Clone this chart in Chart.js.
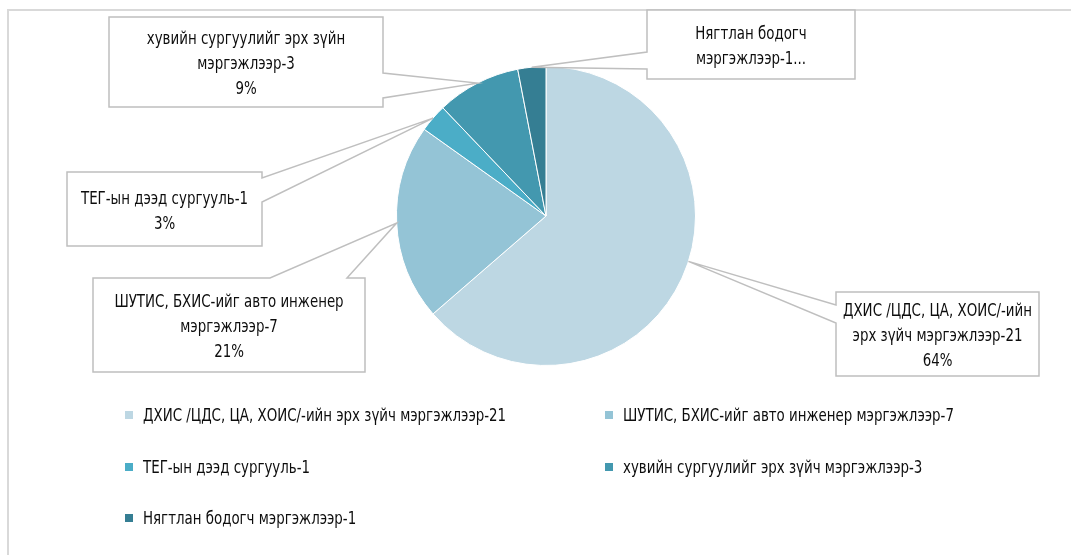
<!DOCTYPE html>
<html><head><meta charset="utf-8">
<script src="https://cdn.jsdelivr.net/npm/chart.js@4.4.1/dist/chart.umd.min.js"></script>
<style>
html,body{margin:0;padding:0;background:#fff;}
#wrap{position:relative;width:1071px;height:555px;overflow:hidden;background:#fff;}
#frame{position:absolute;left:7px;top:9px;width:1080px;height:570px;border-top:2px solid #d9d9d9;border-left:2px solid #d9d9d9;}
#c{position:absolute;left:0;top:0;}
.leg{position:absolute;font-family:"Liberation Sans Narrow","DejaVu Sans Condensed",sans-serif;font-size:17px;color:#0d0d0d;white-space:nowrap;line-height:20px;}
.leg span{display:inline-block;transform:scaleX(0.875);transform-origin:0 50%;}
.leg i{position:absolute;left:-18px;top:6px;width:8px;height:8px;}
</style></head>
<body>
<div id="wrap"><div id="frame"></div><canvas id="c" width="1071" height="555"></canvas></div>
<script>
const categories = [
  "ДХИС /ЦДС, ЦА, ХОИС/-ийн эрх зүйч мэргэжлээр-21",
  "ШУТИС, БХИС-ийг авто инженер мэргэжлээр-7",
  "ТЕГ-ын дээд сургууль-1",
  "хувийн сургуулийг эрх зүйч мэргэжлээр-3",
  "Нягтлан бодогч мэргэжлээр-1"
];
const values = [21, 7, 1, 3, 1];
const colors = ["#bdd7e3", "#94c4d6", "#4badc7", "#4398af", "#357e93"];
const calloutLines = [
  ["ДХИС /ЦДС, ЦА, ХОИС/-ийн", "эрх зүйч мэргэжлээр-21"],
  ["ШУТИС, БХИС-ийг авто инженер", "мэргэжлээр-7"],
  ["ТЕГ-ын дээд сургууль-1"],
  ["хувийн сургуулийг эрх зүйн", "мэргэжлээр-3"],
  ["Нягтлан бодогч", "мэргэжлээр-1..."]
];
const calloutShowPct = [true, true, true, true, false];

const FONT = '"Liberation Sans Narrow","DejaVu Sans Condensed",sans-serif';
const SQUEEZE = 0.875;
// callout box geometry: [x1,y1,x2,y2, side, b1, b2, tipFraction]
const boxes = [
  [836, 292, 1039, 376, 'left', 305, 323, 0.47],
  [93, 278, 365, 372, 'top', 270, 347, 0.5],
  [67, 172, 262, 246, 'right', 178, 202, 0.5],
  [109, 17, 383, 107, 'right', 73, 98, 0.5],
  [647, 10, 855, 79, 'left', 52, 69, 0.5]
];

const total = values.reduce((a, b) => a + b, 0);

const calloutPlugin = {
  id: 'callouts',
  afterDatasetsDraw(chart) {
    const ctx = chart.ctx;
    const arcs = chart.getDatasetMeta(0).data;
    arcs.forEach((arc, i) => {
      const p = arc.getProps(['x', 'y', 'startAngle', 'endAngle', 'outerRadius'], true);
      const [x1, y1, x2, y2, side, b1, b2, f] = boxes[i];
      const ang = p.startAngle + (p.endAngle - p.startAngle) * f;
      const tx = p.x + Math.cos(ang) * p.outerRadius;
      const ty = p.y + Math.sin(ang) * p.outerRadius;
      ctx.save();
      ctx.beginPath();
      if (side === 'left') {
        ctx.moveTo(x1, y1); ctx.lineTo(x2, y1); ctx.lineTo(x2, y2); ctx.lineTo(x1, y2);
        ctx.lineTo(x1, b2); ctx.lineTo(tx, ty); ctx.lineTo(x1, b1);
      } else if (side === 'right') {
        ctx.moveTo(x1, y1); ctx.lineTo(x2, y1); ctx.lineTo(x2, b1); ctx.lineTo(tx, ty);
        ctx.lineTo(x2, b2); ctx.lineTo(x2, y2); ctx.lineTo(x1, y2);
      } else {
        ctx.moveTo(x1, y1); ctx.lineTo(b1, y1); ctx.lineTo(tx, ty); ctx.lineTo(b2, y1);
        ctx.lineTo(x2, y1); ctx.lineTo(x2, y2); ctx.lineTo(x1, y2);
      }
      ctx.closePath();
      ctx.fillStyle = '#ffffff';
      ctx.fill();
      ctx.strokeStyle = '#bfbfbf';
      ctx.lineWidth = 1.5;
      ctx.stroke();
      const lines = calloutLines[i].slice();
      if (calloutShowPct[i]) lines.push(Math.round(values[i] / total * 100) + '%');
      ctx.fillStyle = '#0d0d0d';
      ctx.font = '17px ' + FONT;
      ctx.textAlign = 'center';
      ctx.textBaseline = 'middle';
      const lh = 25;
      const cx = (x1 + x2) / 2, cy = (y1 + y2) / 2 + 3;
      const startY = cy - (lines.length - 1) * lh / 2;
      lines.forEach((t, k) => {
        ctx.save();
        ctx.translate(cx, startY + k * lh);
        ctx.scale(SQUEEZE, 1);
        ctx.fillText(t, 0, 0);
        ctx.restore();
      });
      ctx.restore();
    });
  }
};

new Chart(document.getElementById('c'), {
  type: 'pie',
  data: {
    labels: categories,
    datasets: [{
      data: values,
      backgroundColor: colors,
      borderColor: '#ffffff',
      borderWidth: 1,
      hoverOffset: 0
    }]
  },
  options: {
    responsive: false,
    animation: false,
    devicePixelRatio: 1,
    layout: { padding: { left: 396, right: 375, top: 66, bottom: 189 } },
    plugins: { legend: { display: false }, tooltip: { enabled: false } }
  },
  plugins: [calloutPlugin]
});

// HTML legend in two columns
const legPos = [[143, 415], [623, 415], [143, 467], [623, 467], [143, 518]];
const wrap = document.getElementById('wrap');
categories.forEach((name, i) => {
  const d = document.createElement('div');
  d.className = 'leg';
  d.style.left = legPos[i][0] + 'px';
  d.style.top = (legPos[i][1] - 10) + 'px';
  const sw = document.createElement('i');
  sw.style.background = colors[i];
  d.appendChild(sw);
  const s = document.createElement('span');
  s.textContent = name;
  d.appendChild(s);
  wrap.appendChild(d);
});
</script>
</body></html>
